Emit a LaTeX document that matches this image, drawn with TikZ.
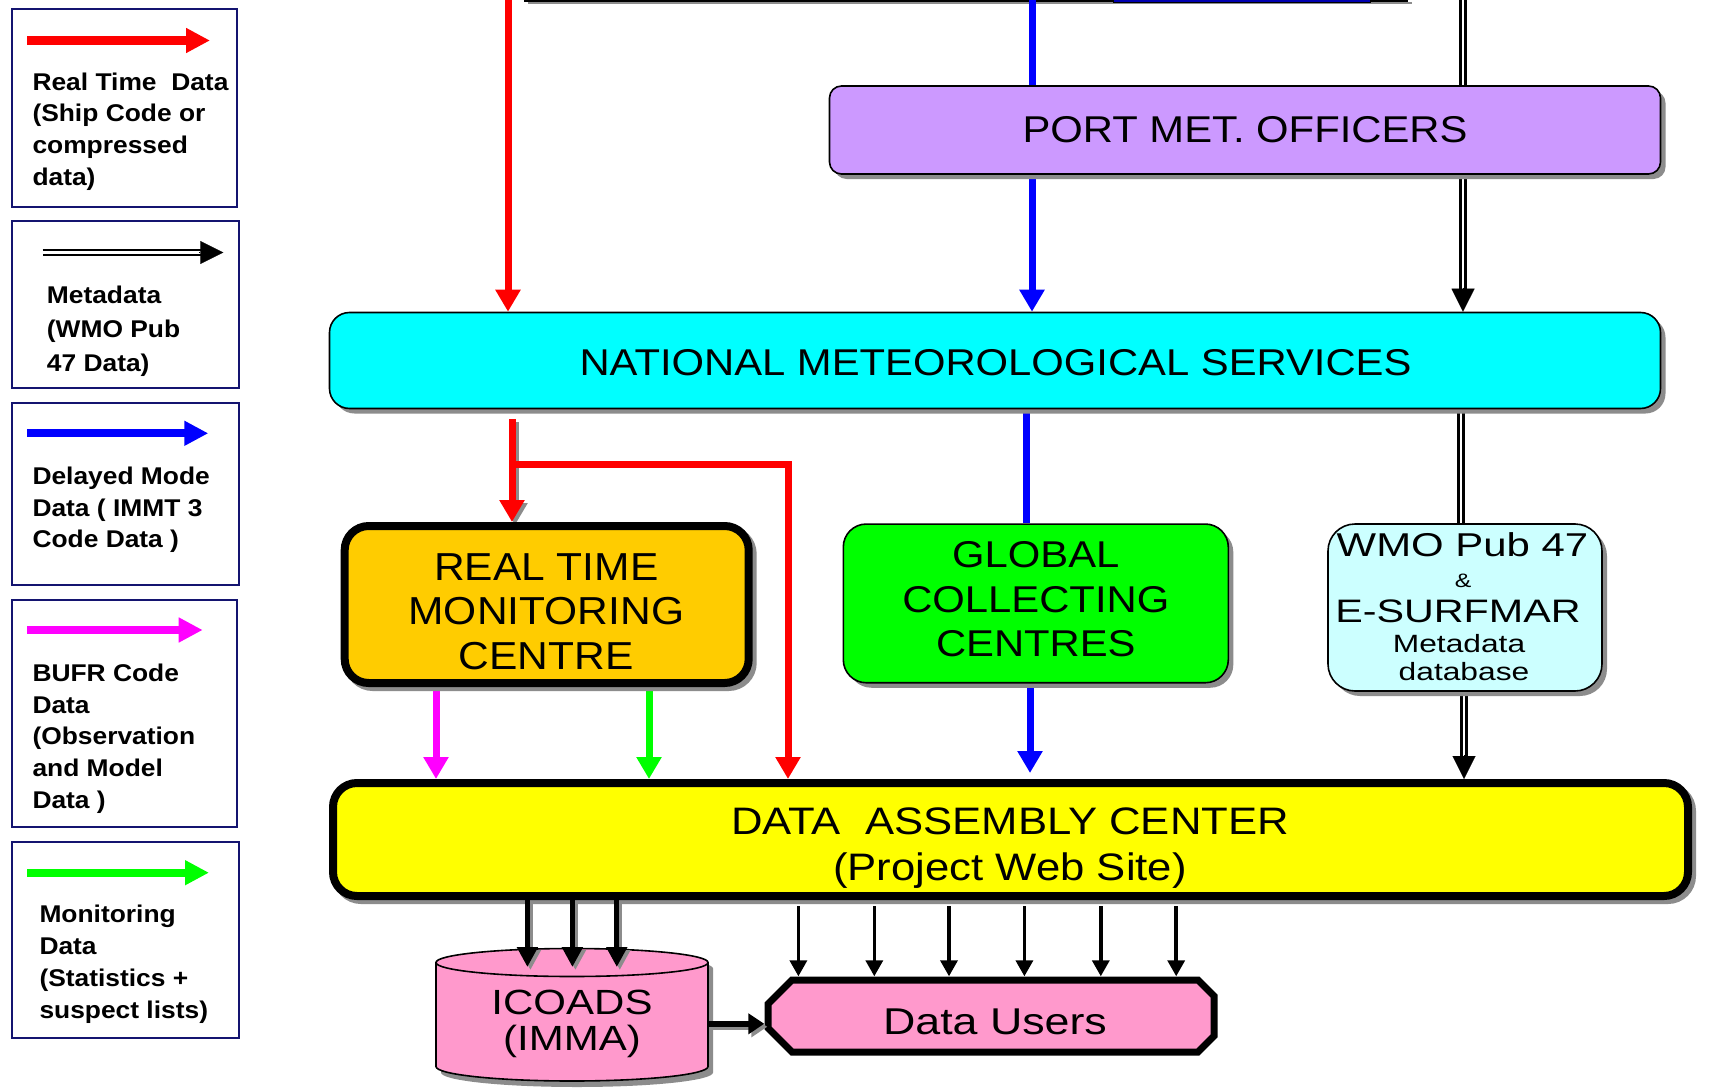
\documentclass[tikz,border=0pt]{standalone}
\usepackage{fontspec}
\setmainfont{Liberation Sans}
\newfontfamily\legfont[FakeStretch=1.09]{Liberation Sans}
\newfontfamily\boxfont[FakeStretch=1.12]{Liberation Sans}
\newfontfamily\dacfont[FakeStretch=1.14]{Liberation Sans}
\newfontfamily\rtmcfont[FakeStretch=1.09]{Liberation Sans}
\newfontfamily\wmofont[FakeStretch=1.27]{Liberation Sans}
\newfontfamily\pinkfont[FakeStretch=1.2]{Liberation Sans}
\usetikzlibrary{arrows.meta,shadows}
\pgfdeclarelayer{bg}
\pgfsetlayers{bg,main}
\definecolor{pmofill}{HTML}{CC99FF}
\definecolor{nmsfill}{HTML}{00FFFF}
\definecolor{rtmcfill}{HTML}{FFCC00}
\definecolor{gccfill}{HTML}{00FF00}
\definecolor{wmofill}{HTML}{CCFFFF}
\definecolor{dacfill}{HTML}{FFFF00}
\definecolor{pinkfill}{HTML}{FF99CC}
\definecolor{rtred}{HTML}{FF0000}
\definecolor{dmblue}{HTML}{0000FF}
\definecolor{bufrmag}{HTML}{FF00FF}
\definecolor{mongreen}{HTML}{00FF00}
\definecolor{legnavy}{HTML}{141470}
\definecolor{shadegray}{HTML}{8C8C8C}
\definecolor{barblue}{HTML}{0000B0}
\tikzset{
 thinbox/.style={draw=black, line width=1.6pt, general shadow={fill=shadegray, shadow xshift=5pt, shadow yshift=-5pt}},
 thickbox/.style={draw=black, line width=8pt, general shadow={fill=shadegray, draw=shadegray, line width=8pt, shadow xshift=4pt, shadow yshift=-4pt}},
 legbox/.style={draw=legnavy, line width=2pt, fill=white},
 legtext/.style={anchor=north west, inner sep=0pt, align=left},
 centertext/.style={inner sep=0pt, align=center},
 basetext/.style={anchor=base, inner sep=0pt},
 colarrow/.style={line width=7pt, -{Triangle[length=22pt,width=24pt]}},
 colline/.style={line width=7pt},
 legarrow/.style={line width=8.3pt, -{Triangle[length=24pt,width=23.5pt]}},
 metaline/.style={draw=black, line width=2.4pt, double=white, double distance=2.8pt},
 metatip/.style={draw=black, line width=0.1pt, -{Triangle[length=23pt,width=23pt]}},
 blkarrow/.style={draw=black, line width=3.5pt, -{Triangle[length=16pt,width=17pt]}},
 icarrow/.style={line width=5pt, -{Triangle[length=20pt,width=20pt]}},
 fatarrow/.style={line width=6pt, -{Triangle[length=16pt,width=20pt]}},
 shadowcopy/.style={draw=shadegray, transform canvas={xshift=3pt,yshift=-3pt}},
}
\begin{document}
\begin{tikzpicture}[x=1pt,y=-1pt]
\useasboundingbox (0,0) rectangle (1711,1089);

% ---------------- boxes ----------------
\node[thinbox, fill=pmofill, rounded corners=12pt, minimum width=831pt, minimum height=88pt,
      font=\boxfont\fontsize{37.3}{40}\selectfont] (pmo) at (1245,130) {PORT MET.\ OFFICERS};
\node[thinbox, fill=nmsfill, rounded corners=20pt, minimum width=1331pt, minimum height=96pt] (nms) at (995,360.5) {};
\node[inner sep=0pt, font=\boxfont\fontsize{37.3}{40}\selectfont] (nmslabel) at (995.5,362.5) {NATIONAL METEOROLOGICAL SERVICES};

\node[thickbox, fill=rtmcfill, rounded corners=24pt, minimum width=404pt, minimum height=157pt] (rtmc) at (546.7,604.5) {};
\node[centertext, font=\rtmcfont\fontsize{39}{44.7}\selectfont] (rtmclabel) at (546.3,611.5) {REAL TIME\\MONITORING\\CENTRE};

\node[thinbox, fill=gccfill, rounded corners=23pt, minimum width=385pt, minimum height=158.7pt] (gcc) at (1035.8,603.4) {};
\node[centertext, font=\boxfont\fontsize{37.3}{44.7}\selectfont] (gcclabel) at (1035.8,599.3) {GLOBAL\\COLLECTING\\CENTRES};

\node[thinbox, fill=wmofill, rounded corners=27pt, minimum width=274pt, minimum height=167pt] (wmo) at (1465,607.5) {};
\node[basetext, font=\wmofont\fontsize{33}{36}\selectfont] (wmo1) at (1462.5,556.7) {WMO Pub 47};
\node[basetext, font=\wmofont\fontsize{19.5}{22}\selectfont] (wmo2) at (1463,587.3) {\&};
\node[basetext, font=\wmofont\fontsize{32.5}{36}\selectfont] (wmo3) at (1458,622.7) {E-SURFMAR};
\node[basetext, font=\wmofont\fontsize{25}{28}\selectfont] (wmo4) at (1459,652.7) {Metadata};
\node[basetext, font=\wmofont\fontsize{25}{28}\selectfont] (wmo5) at (1464,680) {database};

\node[thickbox, fill=dacfill, rounded corners=24pt, minimum width=1355pt, minimum height=113pt] (dac) at (1010.5,839.5) {};
\node[centertext, anchor=north, font=\dacfont\fontsize{38.3}{45.5}\selectfont] (daclabel) at (1010,807.6)
   {DATA\ \ ASSEMBLY CENTER\\(Project Web Site)};

% ICOADS cylinder
\fill[shadegray] (441,968.5) -- (441,1072.5) arc[start angle=180,end angle=0,x radius=136,y radius=14.5]
   -- (713,968.5) arc[start angle=0,end angle=-180,x radius=136,y radius=14] -- cycle;
\filldraw[fill=pinkfill, draw=black, line width=1.6pt] (436,962.5) -- (436,1066.5)
   arc[start angle=180,end angle=0,x radius=136,y radius=14.5] -- (708,962.5)
   arc[start angle=0,end angle=-180,x radius=136,y radius=14] -- cycle;
\draw[line width=1.6pt] (708,962.5) arc[start angle=0,end angle=180,x radius=136,y radius=14];
\node[centertext, anchor=north, font=\pinkfont\fontsize{35}{35.7}\selectfont] (icoads) at (572,990) {ICOADS\\(IMMA)};

% Data Users
\filldraw[fill=pinkfill, draw=black, line width=7pt, line join=miter]
   (792,980) -- (1198,980) -- (1214,996) -- (1214,1036) -- (1198,1052) -- (792,1052) -- (768,1028) -- (768,1004) -- cycle;
\node[minimum width=461pt, minimum height=91pt, inner sep=0pt, font=\pinkfont\fontsize{37.3}{40}\selectfont] (du) at (995,1022) {Data Users};

% ---------------- connectors ----------------
\coordinate (topred) at (508,0);
\coordinate (topblue) at (1032,0);
\coordinate (topmeta) at (1463,0);
\coordinate (rtA) at (512,419);
\coordinate (rtB) at (512,464);
\coordinate (rtC) at (788,464);
\coordinate (mgA) at (436,690);
\coordinate (gnA) at (649,690);
\coordinate (blA) at (1032,178);
\coordinate (blB) at (1026,400);
\coordinate (blC) at (1030,688);
\coordinate (blD) at (1030,773);
\coordinate (mtA) at (1463,178);
\coordinate (mtB) at (1461,405);
\coordinate (mtC) at (1464,690);
\coordinate (mtAend) at (mtA |- nms.north);
\coordinate (mtCend) at (mtC |- dac.north);

\begin{pgfonlayer}{bg}
\fill[white] (0,0) rectangle (1711,1089);
% remnant of the box above the picture
\draw[shadegray, line width=2pt] (528,3.5) -- (1412,3.5);
\draw[black, line width=1.5pt] (524,1) -- (1408,1);
\filldraw[fill=barblue, draw=black, line width=1pt] (1113,-4) rectangle (1370,2.5);

% red (real time)
\draw[colarrow, rtred] (topred) -- (topred |- nms.north);
\draw[colarrow, shadowcopy] (rtA) -- (rtA |- rtmc.north);
\draw[colarrow, rtred] (rtA) -- (rtA |- rtmc.north);
\draw[colarrow, rtred] (rtB) -- (rtC) -- (rtC |- dac.north);
% magenta, green
\draw[colarrow, bufrmag] (mgA) -- (mgA |- dac.north);
\draw[colarrow, mongreen] (gnA) -- (gnA |- dac.north);
% blue (delayed mode)
\draw[colline, dmblue] (topblue) -- (topblue |- pmo.north);
\draw[colarrow, dmblue] (blA) -- (blA |- nms.north);
\draw[colline, dmblue] (blB) -- (blB |- gcc.north);
\draw[colarrow, dmblue] (blC) -- (blD);
% metadata (double)
\draw[metaline] (topmeta) -- (topmeta |- pmo.north);
\draw[metaline, shorten >=20pt] (mtA) -- (mtAend);
\draw[metatip] ([yshift=24pt]mtAend) -- (mtAend);
\draw[metaline] (mtB) -- (mtB |- wmo.north);
\draw[metaline, shorten >=20pt] (mtC) -- (mtCend);
\draw[metatip] ([yshift=24pt]mtCend) -- (mtCend);
\end{pgfonlayer}

% DAC -> ICOADS
\coordinate (ic1) at (527.4,967);
\coordinate (ic2) at (572.4,967);
\coordinate (ic3) at (616.8,967);
\foreach \c in {ic1,ic2,ic3}{
  \draw[icarrow, shadowcopy] (\c |- dac.south) -- (\c);
  \draw[icarrow, black] (\c |- dac.south) -- (\c);
}
% DAC -> Data Users
\coordinate (du1) at (798.4,906);
\coordinate (du2) at (874.3,906);
\coordinate (du3) at (949,906);
\coordinate (du4) at (1024.4,906);
\coordinate (du5) at (1100.8,906);
\coordinate (du6) at (1176.2,906);
\foreach \c in {du1,du2,du3,du4,du5,du6}{
  \draw[blkarrow] (\c) -- (\c |- du.north);
}
% ICOADS -> Data Users
\coordinate (icr) at (708,1023.8);
\draw[fatarrow, shadowcopy] (icr) -- (icr -| du.west);
\draw[fatarrow, black] (icr) -- (icr -| du.west);

% ---------------- legend ----------------
\node[legbox, minimum width=225pt, minimum height=198pt] (leg1) at (124.5,108) {};
\node[legbox, minimum width=227pt, minimum height=167pt] (leg2) at (125.5,304.5) {};
\node[legbox, minimum width=227pt, minimum height=182pt] (leg3) at (125.5,494) {};
\node[legbox, minimum width=225pt, minimum height=227pt] (leg4) at (124.5,713.5) {};
\node[legbox, minimum width=227pt, minimum height=196pt] (leg5) at (125.5,940) {};

\coordinate (l1a) at (27.3,40.5);  \coordinate (l1b) at (210,40.5);
\coordinate (l2a) at (42.7,252.5); \coordinate (l2b) at (223.3,252.5);
\coordinate (l3a) at (27.3,433.3); \coordinate (l3b) at (208.3,433.3);
\coordinate (l4a) at (27,630);     \coordinate (l4b) at (202.7,630);
\coordinate (l5a) at (27,872.7);   \coordinate (l5b) at (209,872.7);
\draw[legarrow, rtred] (l1a) -- (l1b);
\draw[metaline, shorten >=20pt] (l2a) -- (l2b);
\draw[metatip] ([xshift=-24pt]l2b) -- (l2b);
\draw[legarrow, dmblue] (l3a) -- (l3b);
\draw[legarrow, bufrmag] (l4a) -- (l4b);
\draw[legarrow, mongreen] (l5a) -- (l5b);

\node[legtext, font=\legfont\bfseries\fontsize{24.2}{31.6}\selectfont] (lt1) at (32.3,72.6)
  {Real Time\ \ Data\\(Ship Code or\\compressed\\data)};
\node[legtext, font=\legfont\bfseries\fontsize{24.2}{34.2}\selectfont] (lt2) at (46.7,285.4)
  {Metadata\\(WMO Pub\\47 Data)};
\node[legtext, font=\legfont\bfseries\fontsize{24.2}{31.7}\selectfont] (lt3) at (32.3,466.7)
  {Delayed Mode\\Data ( IMMT 3\\Code Data )};
\node[legtext, font=\legfont\bfseries\fontsize{24.2}{31.9}\selectfont] (lt4) at (32.3,663.4)
  {BUFR Code\\Data\\(Observation\\and Model\\Data )};
\node[legtext, font=\legfont\bfseries\fontsize{24.2}{32.2}\selectfont] (lt5) at (39.3,904.4)
  {Monitoring\\Data\\(Statistics +\\suspect lists)};
\end{tikzpicture}
\end{document}
